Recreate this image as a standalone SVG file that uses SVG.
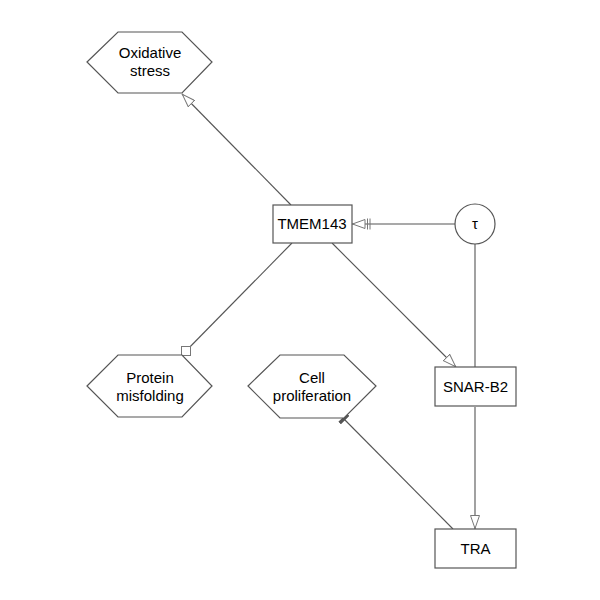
<svg xmlns="http://www.w3.org/2000/svg" width="600" height="600" viewBox="0 0 600 600">
<style>
.n{fill:#fff;stroke:#555;stroke-width:1.2}
.t{font-family:"Liberation Sans",Arial,sans-serif;font-size:15px;fill:#000;text-anchor:middle}
.e{fill:none;stroke:#555;stroke-width:1.1}
</style>
<defs>
<marker id="tri" viewBox="0 0 14 10" refX="14" refY="5" markerWidth="14" markerHeight="10" markerUnits="userSpaceOnUse" orient="auto">
<path d="M0.5,0.5 L13.5,5 L0.5,9.5 Z" fill="#fff" stroke="#777" stroke-width="1"/>
</marker>
<marker id="tribar" viewBox="0 0 20 12" refX="20" refY="6" markerWidth="20" markerHeight="12" markerUnits="userSpaceOnUse" orient="auto">
<path d="M7,1.5 L19.5,6 L7,10.5 Z" fill="#fff" stroke="#777" stroke-width="1"/>
<path d="M2,0.5 V11.5 M4.5,0.5 V11.5" stroke="#777" stroke-width="1"/>
</marker>
<marker id="sq" viewBox="0 0 10 10" refX="1" refY="9" markerWidth="10" markerHeight="10" markerUnits="userSpaceOnUse" orient="0">
<rect x="0.5" y="0.5" width="9" height="9" fill="#fff" stroke="#777" stroke-width="1"/>
</marker>
<marker id="bar" viewBox="0 0 4 12" refX="3" refY="6" markerWidth="4" markerHeight="12" markerUnits="userSpaceOnUse" orient="auto">
<rect x="0" y="0" width="3.5" height="12" fill="#555"/>
</marker>
</defs>
<g id="edges">
<line class="e" x1="291" y1="205" x2="182" y2="94" marker-end="url(#tri)"/>
<line class="e" x1="455" y1="224" x2="352" y2="224" marker-end="url(#tribar)"/>
<line class="e" x1="292" y1="243" x2="182" y2="355" marker-end="url(#sq)"/>
<line class="e" x1="332" y1="243" x2="456" y2="367" marker-end="url(#tri)"/>
<line class="e" x1="475" y1="244" x2="475" y2="367"/>
<line class="e" x1="475" y1="407" x2="475" y2="529" marker-end="url(#tri)"/>
<line class="e" x1="453" y1="529" x2="343" y2="418" marker-end="url(#bar)"/>
</g>
<g id="oxidative-stress">
<polygon class="n" points="87,62 118,32 182,32 212,62 182,93 118,93"/>
<text class="t" x="150" y="58">Oxidative</text>
<text class="t" x="150" y="76">stress</text>
</g>
<g id="protein-misfolding">
<polygon class="n" points="87,386 118,355 182,355 212,386 182,417 118,417"/>
<text class="t" x="150" y="383">Protein</text>
<text class="t" x="150" y="401">misfolding</text>
</g>
<g id="cell-proliferation">
<polygon class="n" points="248,386 280,355 344,355 376,386 344,418 280,418"/>
<text class="t" x="312" y="383">Cell</text>
<text class="t" x="312" y="401">proliferation</text>
</g>
<g id="tmem143">
<rect class="n" x="273" y="205" width="79" height="38"/>
<text class="t" x="312" y="229">TMEM143</text>
</g>
<g id="tau">
<circle class="n" cx="475" cy="224" r="20"/>
<text class="t" x="475" y="229">τ</text>
</g>
<g id="snar-b2">
<rect class="n" x="435" y="367" width="81" height="39"/>
<text class="t" x="475.5" y="392">SNAR-B2</text>
</g>
<g id="tra">
<rect class="n" x="435" y="529" width="81" height="39"/>
<text class="t" x="475.5" y="554">TRA</text>
</g>
</svg>
